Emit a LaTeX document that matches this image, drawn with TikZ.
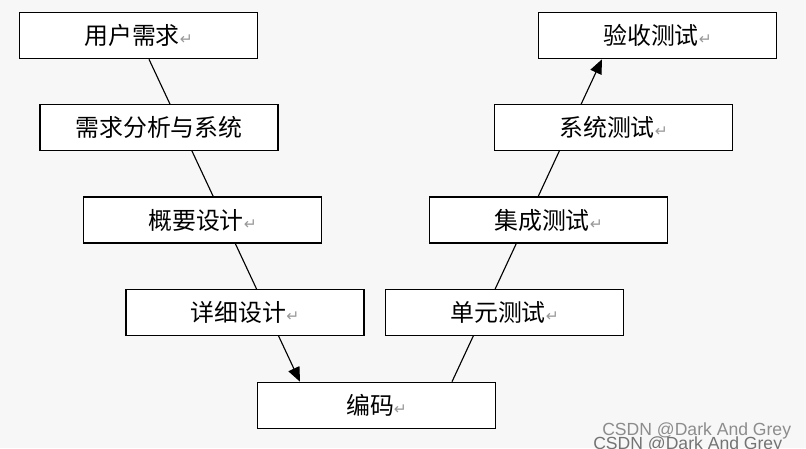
\documentclass[tikz,border=0pt]{standalone}
\usepackage{fontspec}
\newfontfamily\cjk{Noto Sans CJK SC}
\newfontfamily\symf{DejaVu Sans}
\setmainfont{Liberation Sans}
\usepackage{tikz}
\usetikzlibrary{arrows.meta,backgrounds}
\usepackage{xcolor}

\newcommand{\ret}{{\symf\fontsize{11}{11}\selectfont\color{black!40}↵}}

\begin{document}
\begin{tikzpicture}[x=0.025cm, y=-0.025cm,
    stage/.style={rectangle, draw, line width=1.1pt, fill=white,
                  minimum width=5.95cm, minimum height=1.15cm,
                  inner sep=0pt, font=\cjk\fontsize{17}{20}\selectfont},
    flow/.style={line width=0.8pt, -{Triangle[length=0.36cm, width=0.3cm]}}]

    % Size
    \useasboundingbox (0,0) rectangle (806,448);

    % Left side (development)
    \node[stage] (user) at (138.5, 35.5) {用户需求\ret};
    \node[stage] (anal) at (159, 127.5) {需求分析与系统};
    \node[stage] (outl) at (202.5, 220) {概要设计\ret};
    \node[stage] (detl) at (245, 312.5) {详细设计\ret};

    % Bottom
    \node[stage] (code) at (376.5, 405.5) {编码\ret};

    % Right side (testing)
    \node[stage] (unit) at (504.5, 312.5) {单元测试\ret};
    \node[stage] (intg) at (548.5, 220) {集成测试\ret};
    \node[stage] (syst) at (613.5, 127.5) {系统测试\ret};
    \node[stage] (accp) at (657.5, 35.5) {验收测试\ret};

    % Connections (behind the boxes)
    \begin{scope}[on background layer]
        \fill[black!3] (0,0) rectangle (806,448);
        \draw[flow] ([xshift=10.5*0.025cm]user.south) -- ([xshift=-76.5*0.025cm]code.north);
        \draw[flow] ([xshift=75.5*0.025cm]code.north) -- ([xshift=-55.5*0.025cm]accp.south);
    \end{scope}

    % Watermark
    \node[anchor=base west, inner sep=0pt, font=\fontsize{12.5}{13}\selectfont, black!45] (wm1) at (602, 435) {CSDN @Dark And Grey};
    \node[anchor=base west, inner sep=0pt, font=\fontsize{12.5}{13}\selectfont, black!55] (wm2) at (593, 449) {CSDN @Dark And Grey};
\end{tikzpicture}
\end{document}
